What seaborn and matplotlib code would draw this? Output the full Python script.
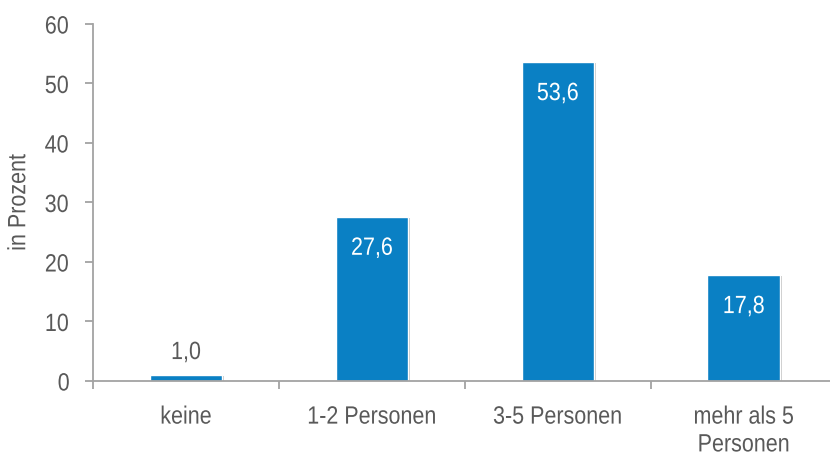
import matplotlib
matplotlib.use("Agg")
import matplotlib.pyplot as plt
import matplotlib.patheffects as pe
from matplotlib.transforms import Affine2D
import seaborn as sns
import pandas as pd

categories = ["keine", "1-2 Personen", "3-5 Personen", "mehr als 5\nPersonen"]
values = [1.0, 27.6, 53.6, 17.8]
y_ticks = [0, 10, 20, 30, 40, 50, 60]
y_label = "in Prozent"

sns.set_theme(style="white")
plt.rcParams["font.family"] = ["Liberation Sans", "DejaVu Sans"]

text_color = "#595959"
axis_color = "#a3a3a3"
bar_color = "#0a80c4"
FS = 18


class Condensed(pe.AbstractPathEffect):
    """Narrow the glyphs along the text direction, keeping each line centred."""

    def __init__(self, sx=0.86):
        super().__init__()
        self.sx = sx

    def draw_path(self, renderer, gc, tpath, affine, rgbFace=None):
        ext = tpath.get_extents()
        cx = 0.5 * (ext.x0 + ext.x1)
        squeeze = Affine2D().translate(-cx, 0).scale(self.sx, 1).translate(cx, 0)
        renderer.draw_path(gc, tpath, squeeze + affine, rgbFace)


narrow = [Condensed(0.86)]

df = pd.DataFrame({"cat": categories, "val": values})

fig = plt.figure(figsize=(8.3, 4.57), dpi=100)
ax = fig.add_axes([0.112, 0.1663, 0.896, 0.7812])

sns.barplot(data=df, x="cat", y="val", color=bar_color, saturation=1,
            width=0.39, ax=ax, edgecolor="white", linewidth=1)

for patch in ax.patches:
    patch.set_path_effects([pe.SimplePatchShadow(offset=(1.5, -1.0), shadow_rgbFace="#000000", alpha=0.22),
                            pe.Normal()])

# Value labels: inside the bar for tall bars, above for short ones
for i, v in enumerate(values):
    txt = f"{v:.1f}".replace(".", ",")
    if v > 5:
        ax.annotate(txt, (i, v), xytext=(0, -31), textcoords="offset pixels",
                    ha="center", va="center", color="white", fontsize=FS,
                    path_effects=narrow)
    else:
        ax.annotate(txt, (i, v), xytext=(0, 23), textcoords="offset pixels",
                    ha="center", va="center", color=text_color, fontsize=FS,
                    path_effects=narrow)

ax.set_xlim(-0.5, 3.5)
ax.set_ylim(0, 60)
ax.set_yticks(y_ticks)
ax.set_ylabel(y_label, fontsize=FS, color=text_color, labelpad=9,
              path_effects=narrow)
ax.set_xlabel("")

for side in ["top", "right"]:
    ax.spines[side].set_visible(False)
for side in ["left", "bottom"]:
    ax.spines[side].set_color(axis_color)
    ax.spines[side].set_linewidth(1.3)

ax.tick_params(axis="y", which="major", direction="out", length=6, width=1.3,
               color=axis_color, labelcolor=text_color, labelsize=FS, left=True, pad=10)
ax.tick_params(axis="x", which="major", length=0, labelcolor=text_color, labelsize=FS, pad=17)
ax.set_xticks([-0.5, 0.5, 1.5, 2.5], minor=True)
ax.tick_params(axis="x", which="minor", direction="out", length=6, width=1.3,
               color=axis_color, bottom=True)
for lbl in ax.get_xticklabels() + ax.get_yticklabels():
    lbl.set_path_effects(narrow)
    lbl.set_linespacing(1.2)

fig.savefig("out.png", dpi=100)
